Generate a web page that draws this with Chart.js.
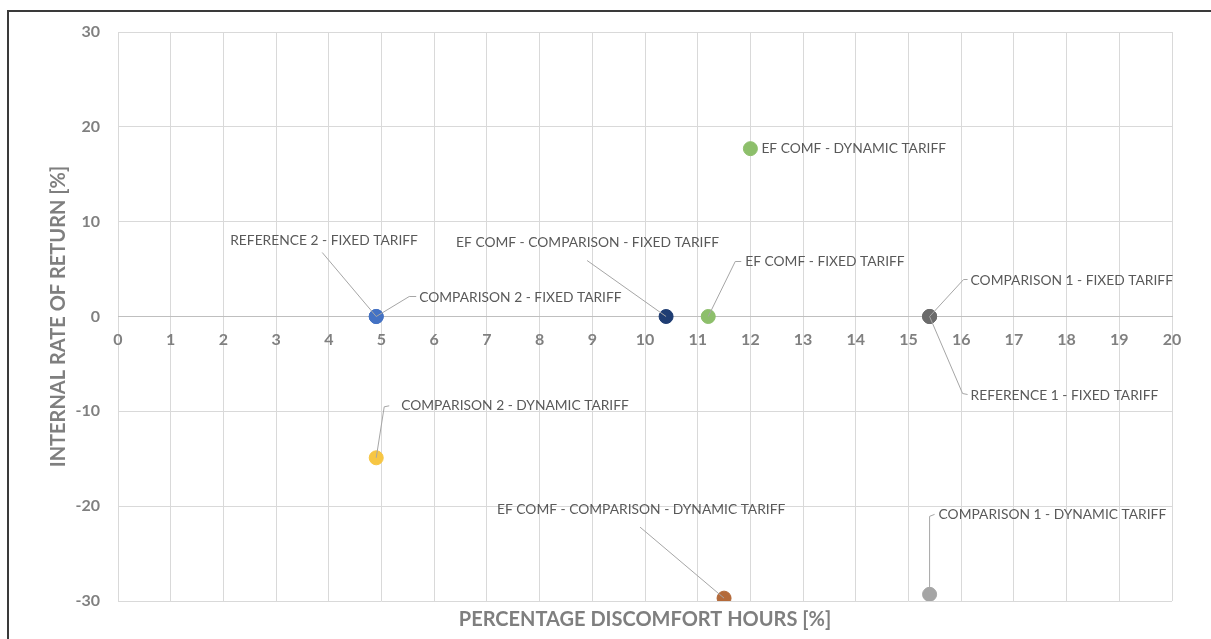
<!DOCTYPE html>
<html>
<head>
<meta charset="utf-8">
<title>IRR vs discomfort hours</title>
<script src="https://cdn.jsdelivr.net/npm/chart.js@4.4.1/dist/chart.umd.min.js"></script>
<style>
  html, body { margin: 0; padding: 0; background: #fff; }
  #wrap { width: 1211px; height: 639px; }
</style>
</head>
<body>
<div id="wrap"><canvas id="chart" width="1211" height="639"></canvas></div>
<script>
// Data
const seriesNames = [
  'REFERENCE 2 - FIXED TARIFF',
  'COMPARISON 2 - FIXED TARIFF',
  'EF COMF - COMPARISON - FIXED TARIFF',
  'EF COMF - FIXED TARIFF',
  'EF COMF - DYNAMIC TARIFF',
  'COMPARISON 1 - FIXED TARIFF',
  'REFERENCE 1 - FIXED TARIFF',
  'COMPARISON 2 - DYNAMIC TARIFF',
  'EF COMF - COMPARISON - DYNAMIC TARIFF',
  'COMPARISON 1 - DYNAMIC TARIFF'
];
const discomfortHours = [4.9, 4.9, 10.4, 11.2, 12.0, 15.4, 15.4, 4.9, 11.5, 15.4];
const internalRate = [0, 0, 0, 0, 17.7, 0, 0, -14.9, -29.7, -29.3];
const xTitle = 'PERCENTAGE DISCOMFORT HOURS [%]';
const yTitle = 'INTERNAL RATE OF RETURN [%]';

// Styling
const pointColors = ['#4472C4', '#4472C4', '#1F3D73', '#8DBF6B', '#8DBF6B', '#6B6B6B', '#6B6B6B', '#F7C643', '#B46A3A', '#A5A5A5'];
// label placement relative to the marker, in pixels: text left/centre, leader bend points
const labelLayout = [
  { dx: -146, dy: -76, leader: [[-54, -64]] },
  { dx: 43, dy: -19, leader: [[33, -20], [40, -20]] },
  { dx: -210, dy: -74, leader: [[-79, -56]] },
  { dx: 37, dy: -55, leader: [[27, -55], [33, -55]] },
  { dx: 11, dy: 0, leader: [] },
  { dx: 41, dy: -36, leader: [[34, -37], [38, -37]] },
  { dx: 41, dy: 79, leader: [[33, 77], [38, 78]] },
  { dx: 25, dy: -52, leader: [[8, -51], [13, -52]] },
  { dx: -227, dy: -89, leader: [[-84, -71]] },
  { dx: 9, dy: -80, leader: [[0, -78], [5, -80]] }
];

const datasets = seriesNames.map((name, i) => ({
  label: name,
  data: [{ x: discomfortHours[i], y: internalRate[i] }],
  backgroundColor: pointColors[i],
  borderColor: pointColors[i],
  pointRadius: 7,
  pointHoverRadius: 7
}));

const labelsPlugin = {
  id: 'labelsPlugin',
  beforeDraw(chart) {
    const ctx = chart.ctx;
    ctx.save();
    ctx.fillStyle = '#fff';
    ctx.fillRect(0, 0, chart.width, chart.height);
    // frame
    ctx.strokeStyle = '#3a3a3a';
    ctx.lineWidth = 2;
    ctx.beginPath();
    ctx.moveTo(8, chart.height);
    ctx.lineTo(8, 11);
    ctx.lineTo(chart.width, 11);
    ctx.stroke();
    ctx.restore();
  },
  afterDatasetsDraw(chart) {
    const ctx = chart.ctx;
    const xs = chart.scales.x, ys = chart.scales.y;
    ctx.save();
    // leader lines
    ctx.strokeStyle = '#a6a6a6';
    ctx.lineWidth = 1;
    seriesNames.forEach((name, i) => {
      const px = xs.getPixelForValue(discomfortHours[i]);
      const py = ys.getPixelForValue(internalRate[i]);
      const lay = labelLayout[i];
      if (!lay.leader.length) return;
      ctx.beginPath();
      ctx.moveTo(px, py);
      lay.leader.forEach(p => ctx.lineTo(px + p[0], py + p[1]));
      ctx.stroke();
    });
    // label texts
    ctx.fillStyle = '#595959';
    ctx.font = '13.8px Lato';
    ctx.textAlign = 'left';
    ctx.textBaseline = 'middle';
    seriesNames.forEach((name, i) => {
      const px = xs.getPixelForValue(discomfortHours[i]);
      const py = ys.getPixelForValue(internalRate[i]);
      const lay = labelLayout[i];
      ctx.fillText(name, px + lay.dx, py + lay.dy);
    });
    // axis titles
    const area = chart.chartArea;
    ctx.fillStyle = '#7f7f7f';
    ctx.font = 'bold 20px Lato';
    ctx.textAlign = 'center';
    ctx.fillText(xTitle, (area.left + area.right) / 2, 620);
    ctx.translate(59, (area.top + area.bottom) / 2);
    ctx.rotate(-Math.PI / 2);
    ctx.fillText(yTitle, 0, 0);
    ctx.restore();
  }
};

new Chart(document.getElementById('chart'), {
  type: 'scatter',
  data: { datasets: datasets },
  options: {
    responsive: false,
    animation: false,
    layout: { padding: { left: 0, top: 32, right: 39, bottom: 38 } },
    plugins: {
      legend: { display: false },
      tooltip: { enabled: false }
    },
    scales: {
      x: {
        type: 'linear',
        position: { y: 0 },
        min: 0,
        max: 20,
        ticks: {
          stepSize: 1,
          padding: 14,
          color: '#808080',
          font: { family: 'Lato', size: 16, weight: 'bold' }
        },
        grid: { color: '#d9d9d9', drawTicks: false },
        border: { color: '#bfbfbf' }
      },
      y: {
        type: 'linear',
        position: 'left',
        min: -30,
        max: 30,
        afterFit(scale) { scale.width = 118; },
        ticks: {
          stepSize: 10,
          padding: 18,
          color: '#808080',
          font: { family: 'Lato', size: 16, weight: 'bold' }
        },
        grid: { color: '#d9d9d9', drawTicks: false },
        border: { display: false }
      }
    }
  },
  plugins: [labelsPlugin]
});
</script>
</body>
</html>
